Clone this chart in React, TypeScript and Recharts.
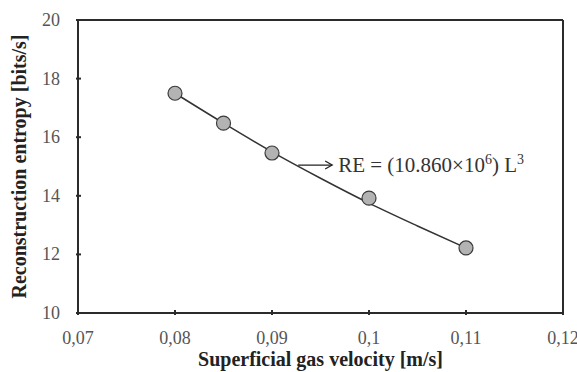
import {
  ComposedChart,
  XAxis,
  YAxis,
  Scatter,
  Line,
  ReferenceLine,
} from 'recharts';

const velocity = [0.08, 0.085, 0.09, 0.1, 0.11];
const entropy = [17.5, 16.48, 15.46, 13.92, 12.22];

const fitVelocity = [0.08, 0.085, 0.09, 0.095, 0.1, 0.105, 0.11];
const fitEntropy = [17.5, 16.48, 15.5, 14.6, 13.75, 12.97, 12.22];

const xTicks = [0.07, 0.08, 0.09, 0.1, 0.11, 0.12];
const yTicks = [10, 12, 14, 16, 18, 20];

const points = velocity.map((v, i) => ({ v, re: entropy[i] }));
const fit = fitVelocity.map((v, i) => ({ v, re: fitEntropy[i] }));

const FONT = '"Liberation Serif", "Times New Roman", serif';
const AXIS = '#2b2b2b';

const fmt = (n: number) => String(n).replace('.', ',');

const XTick = ({ x, y, payload }: any) => (
  <g>
    <line x1={x} x2={x} y1={y} y2={y - 5} stroke={AXIS} strokeWidth={2} />
    <text x={x} y={y + 29} textAnchor="middle" fontFamily={FONT} fontSize={18} fill="#555">
      {fmt(payload.value)}
    </text>
  </g>
);

const YTick = ({ x, y, payload }: any) => (
  <g>
    <line x1={x} x2={x + 5} y1={y} y2={y} stroke={AXIS} strokeWidth={2} />
    <text x={x - 16} y={y + 6} textAnchor="end" fontFamily={FONT} fontSize={18} fill="#555">
      {payload.value}
    </text>
  </g>
);

const Dot = ({ cx, cy }: any) => (
  <circle cx={cx} cy={cy} r={7} fill="#b3b3b3" stroke="#3a3a3a" strokeWidth={1.2} />
);

const Annotation = ({ viewBox }: any) => {
  const ex = viewBox.x + viewBox.width;
  const ey = viewBox.y;
  return (
    <g>
      <polyline
        points={`${ex - 7},${ey - 4} ${ex},${ey} ${ex - 7},${ey + 4}`}
        fill="none"
        stroke="#222"
        strokeWidth={1.3}
      />
      <text x={ex + 6} y={ey + 7} fontFamily={FONT} fontSize={21} fill="#333">
        RE = (10.860×10
        <tspan dy={-8} fontSize={14}>6</tspan>
        <tspan dy={8}>) L</tspan>
        <tspan dy={-8} fontSize={14}>3</tspan>
      </text>
    </g>
  );
};

export default function App() {
  return (
    <div style={{ position: 'absolute', left: 0, top: 0, width: 577, height: 372, background: '#fff' }}>
      <ComposedChart
        width={577}
        height={372}
        margin={{ top: 20, right: 14, bottom: 0, left: 0 }}
      >
        <XAxis
          dataKey="v"
          type="number"
          domain={[0.07, 0.12]}
          ticks={xTicks}
          height={59}
          tickSize={0}
          tickLine={false}
          axisLine={{ stroke: AXIS, strokeWidth: 2 }}
          tick={<XTick />}
          label={{
            value: 'Superficial gas velocity [m/s]',
            position: 'insideBottom',
            offset: 6,
            style: { fontFamily: FONT, fontSize: 20, fontWeight: 'bold', fill: '#222' },
          }}
        />
        <YAxis
          type="number"
          domain={[10, 20]}
          ticks={yTicks}
          width={78}
          tickSize={0}
          tickLine={false}
          axisLine={{ stroke: AXIS, strokeWidth: 2 }}
          tick={<YTick />}
          label={{
            value: 'Reconstruction entropy [bits/s]',
            angle: -90,
            position: 'insideLeft',
            offset: 19,
            style: {
              fontFamily: FONT,
              fontSize: 20,
              fontWeight: 'bold',
              fill: '#222',
              textAnchor: 'middle',
            },
          }}
        />
        {/* top and right edges of the plot frame */}
        <ReferenceLine y={20} stroke={AXIS} strokeWidth={2} ifOverflow="visible" />
        <ReferenceLine x={0.12} stroke={AXIS} strokeWidth={2} ifOverflow="visible" />
        <Line
          data={fit}
          dataKey="re"
          type="monotone"
          stroke="#333"
          strokeWidth={1.5}
          dot={false}
          activeDot={false}
          isAnimationActive={false}
        />
        <Scatter data={points} dataKey="re" shape={<Dot />} isAnimationActive={false} />
        <ReferenceLine
          segment={[
            { x: 0.0927, y: 15.05 },
            { x: 0.0962, y: 15.05 },
          ]}
          stroke="#222"
          strokeWidth={1.3}
          label={<Annotation />}
        />
      </ComposedChart>
    </div>
  );
}
